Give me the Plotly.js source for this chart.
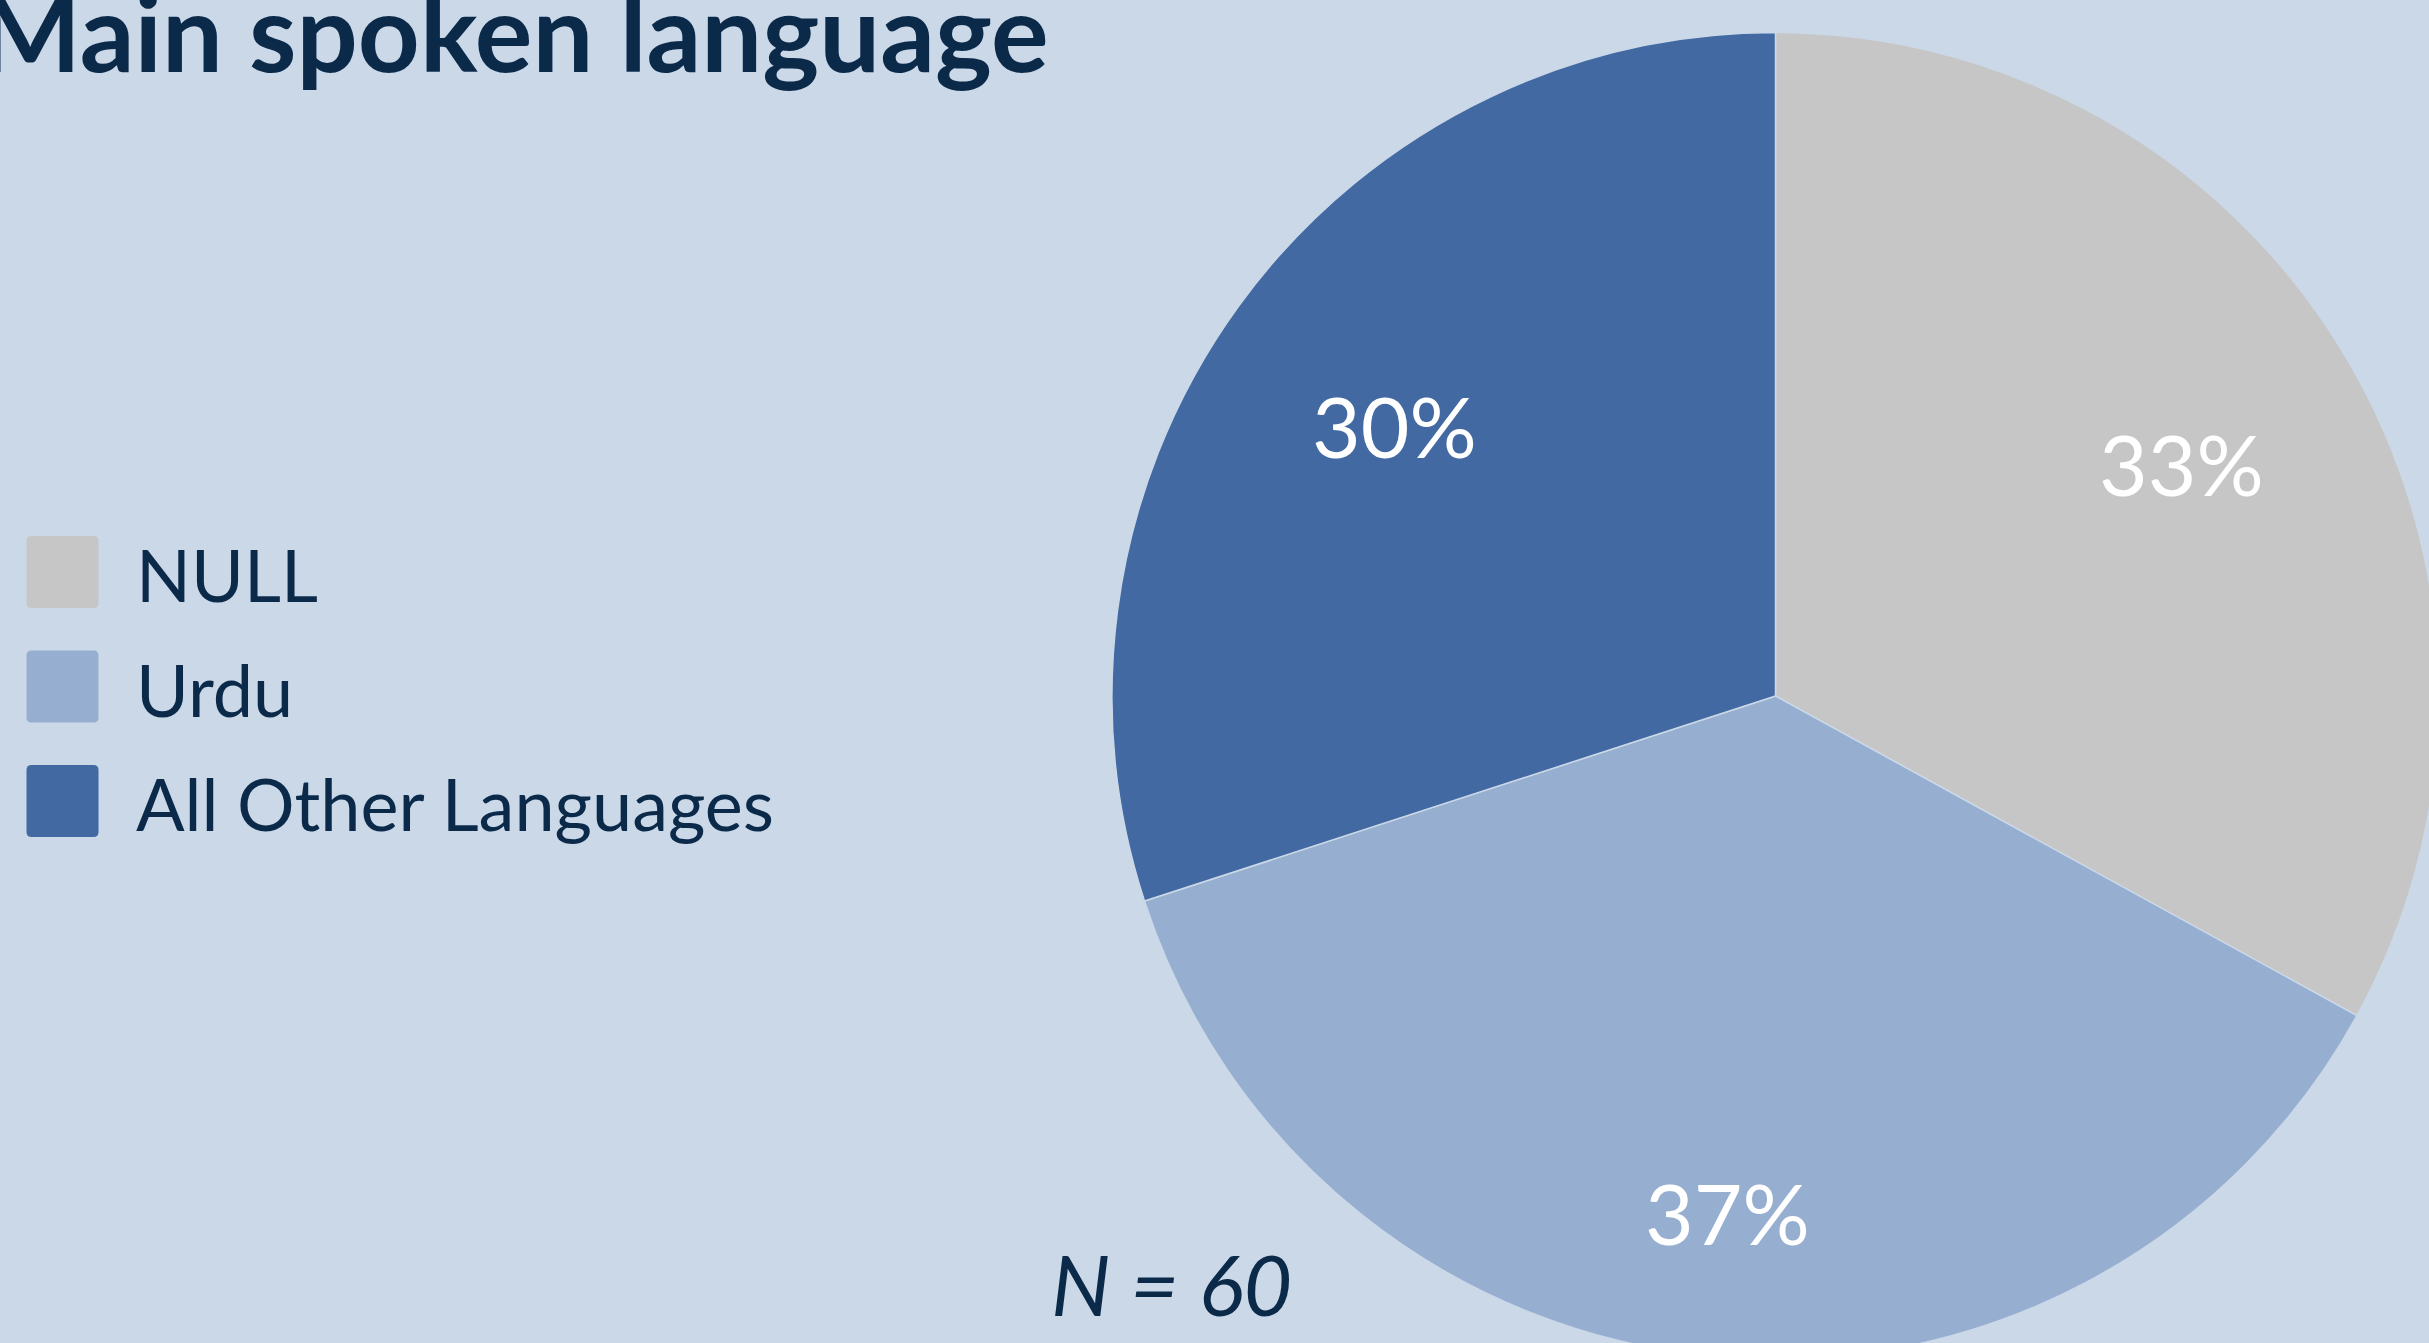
<!DOCTYPE html>
<html>
<head>
<meta charset="utf-8">
<script src="https://cdn.plot.ly/plotly-3.0.1.min.js"></script>
<style>
  html, body { margin: 0; padding: 0; overflow: hidden; background: #cbd8e8; width: 2429px; height: 1343px; }
  #chart { position: absolute; left: -21px; top: 0; }
</style>
</head>
<body>
<div id="chart"></div>
<script>
// ---- data ----
const labels = ["NULL", "Urdu", "All Other Languages"];
const percents = [33, 37, 30];
const colors = ["#c6c6c6", "#96afd0", "#4269a2"];
const titleText = "Main spoken language";
const nTotal = 60;

// ---- layout constants (pixels in the div) ----
const W = 2460, H = 1380, OFF = 21;
const cx = 1776 + OFF, cy = 696, R = 664;
const navy = "#0b2a4a";
const bg = "#cbd8e8";
const FONT = "Lato, 'Open Sans', sans-serif";
const PCT_SIZE = 84;

function px(x) { return x / W; }
function py(y) { return 1 - y / H; }

const pie = {
  type: "pie",
  labels: labels,
  values: percents,
  sort: false,
  direction: "clockwise",
  rotation: 0,
  marker: { colors: colors, line: { color: bg, width: 1.5 } },
  textinfo: "none",
  hoverinfo: "label+percent",
  domain: { x: [px(cx - R), px(cx + R)], y: [py(cy + R), py(cy - R)] },
  showlegend: false
};

// custom legend built from the data arrays
const legX0 = 26.5 + OFF, legSize = 72, legY0 = 572, legStep = 114.5, rad = 5;
function roundRect(x0, y0, w, h, r) {
  const X = v => px(v), Y = v => py(v);
  return `M${X(x0 + r)},${Y(y0)} L${X(x0 + w - r)},${Y(y0)} Q${X(x0 + w)},${Y(y0)} ${X(x0 + w)},${Y(y0 + r)} ` +
    `L${X(x0 + w)},${Y(y0 + h - r)} Q${X(x0 + w)},${Y(y0 + h)} ${X(x0 + w - r)},${Y(y0 + h)} ` +
    `L${X(x0 + r)},${Y(y0 + h)} Q${X(x0)},${Y(y0 + h)} ${X(x0)},${Y(y0 + h - r)} ` +
    `L${X(x0)},${Y(y0 + r)} Q${X(x0)},${Y(y0)} ${X(x0 + r)},${Y(y0)} Z`;
}
const shapes = labels.map((l, i) => ({
  type: "path", xref: "paper", yref: "paper",
  path: roundRect(legX0, legY0 + i * legStep - legSize / 2, legSize, legSize, rad),
  fillcolor: colors[i], line: { width: 0 }, layer: "above"
}));
const annotations = labels.map((l, i) => ({
  xref: "paper", yref: "paper", x: px(134 + OFF), y: py(legY0 + i * legStep + 2),
  xanchor: "left", yanchor: "middle", showarrow: false, text: l,
  font: { family: FONT, size: 72, color: navy }
}));
annotations.push({
  xref: "paper", yref: "paper", x: px(1171 + OFF), y: py(1283),
  xanchor: "center", yanchor: "middle", showarrow: false,
  text: "N = " + nTotal,
  font: { family: FONT, size: 84, color: navy, style: "italic" }
});

// percentage labels placed along each slice's mid-angle (derived from the data)
const total = percents.reduce((a, b) => a + b, 0);
const meas = document.createElement("canvas").getContext("2d");
meas.font = PCT_SIZE + "px Lato";
const K = 0.835 * R;   // outer corner of each label sits at this radius
let cum = 0;
percents.forEach((v, i) => {
  const mid = (cum + v / 2) / total * 2 * Math.PI;
  cum += v;
  const txt = Math.round(100 * v / total) + "%";
  const hw = meas.measureText(txt).width / 2 - 3;
  const hh = 0.36 * PCT_SIZE;
  const sx = Math.sin(mid), sy = -Math.cos(mid);
  const b = Math.abs(sx) * hw + Math.abs(sy) * hh;
  const c = hw * hw + hh * hh - K * K;
  const d = -b + Math.sqrt(b * b - c);
  annotations.push({
    xref: "paper", yref: "paper",
    x: px(cx + d * sx), y: py(cy + d * sy + 7),
    xanchor: "center", yanchor: "middle", showarrow: false,
    text: txt, font: { family: FONT, size: PCT_SIZE, color: "#ffffff" }
  });
});

const layout = {
  width: W, height: H,
  margin: { l: 0, r: 0, t: 0, b: 0 },
  paper_bgcolor: bg, plot_bgcolor: bg,
  title: {
    text: titleText, xref: "container", yref: "container",
    x: 0, xanchor: "left", y: py(34), yanchor: "middle",
    font: { family: FONT, size: 108, color: navy, weight: "bold" }
  },
  showlegend: false,
  shapes: shapes,
  annotations: annotations
};

Plotly.newPlot("chart", [pie], layout, { displayModeBar: false, staticPlot: true });
</script>
</body>
</html>
